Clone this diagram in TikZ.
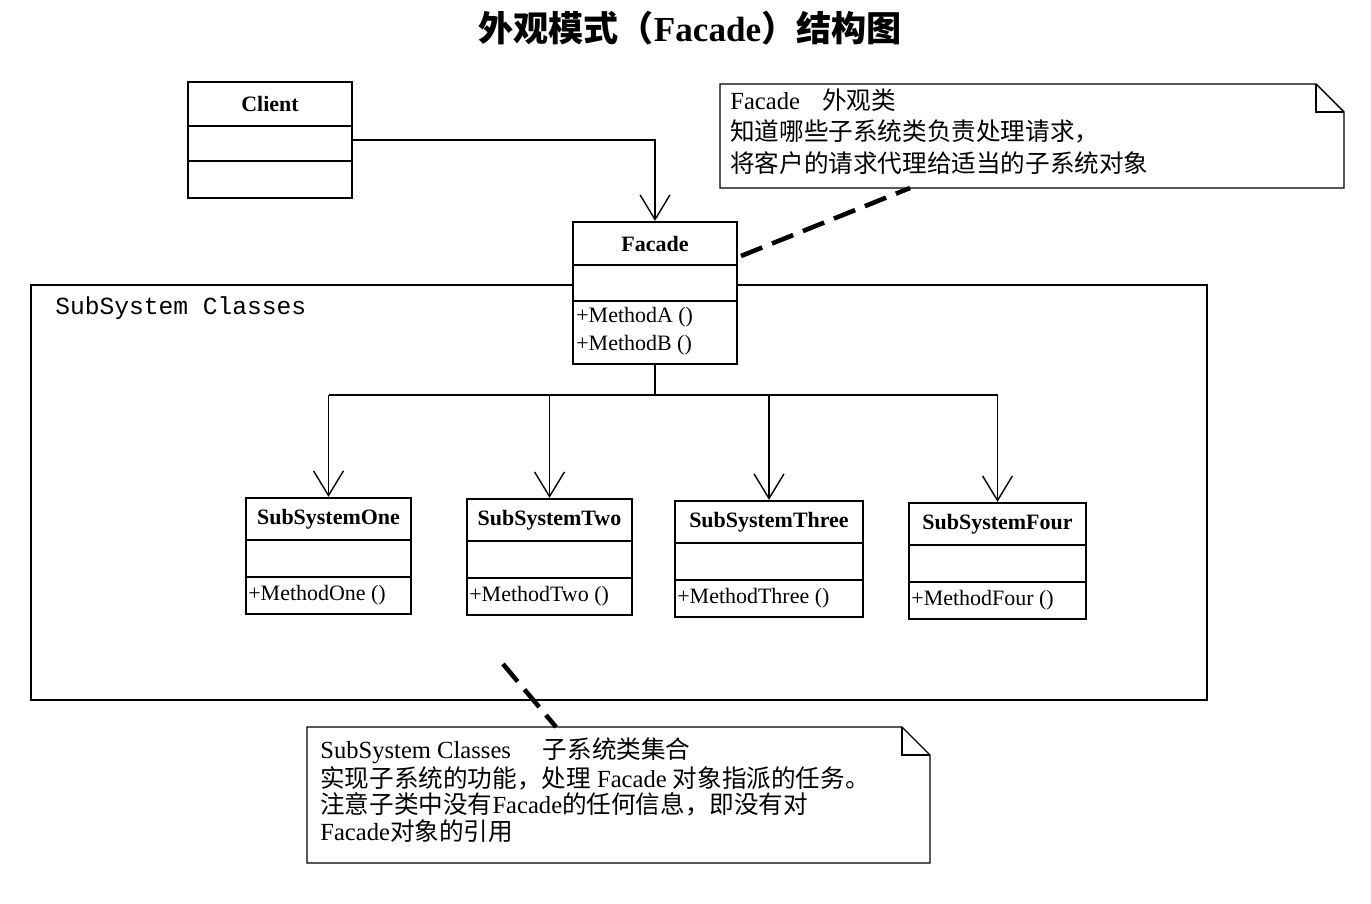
\documentclass[tikz,border=0pt]{standalone}
\usepackage{fontspec}
\setmainfont{Liberation Serif}
\setmonofont{Liberation Mono}
\newfontfamily\cjk{Noto Sans CJK SC}
\usetikzlibrary{arrows.meta,fit}
\tikzset{
  classbox/.style={draw, line width=1.3pt, fill=white, inner sep=0pt},
  classline/.style={line width=1.3pt},
  classname/.style={font=\fontsize{12.5}{14}\selectfont\bfseries, inner sep=0pt},
  method/.style={font=\fontsize{12.5}{14}\selectfont, inner sep=0pt, anchor=west},
  assoc/.style={line width=0.8pt, -{Straight Barb[length=14pt,width=17pt]}},
  wire/.style={line width=0.8pt},
  notebox/.style={line width=0.8pt},
  notetext/.style={font=\fontsize{14}{16}\selectfont, inner sep=0pt, anchor=base west},
  notelink/.style={line width=2.6pt, dash pattern=on 13pt off 6pt},
  pkgbox/.style={draw, line width=1.3pt, inner sep=0pt},
}
\newcommand\umlclass[8]{%
  \node[classbox, fit={(#2,#3)(#4,#5)}] (#1) {};
  \draw[classline] (#2,#6) -- (#4,#6);
  \draw[classline] (#2,#7) -- (#4,#7);
  \node[classname] (#1-name) at ({(#2+#4)/2},{(#3+#6)/2}) {#8};
}
\newcommand\umlnote[6]{%
  \node[fit={(#2,#3)(#4,#5)}, inner sep=0pt] (#1) {};
  \draw[notebox] (#2,#3) -- ({#4-#6},#3) -- (#4,{#3+#6}) -- (#4,#5) -- (#2,#5) -- cycle;
  \draw[notebox] ({#4-#6},#3) -- ({#4-#6},{#3+#6}) -- (#4,{#3+#6});
}
\begin{document}
\begin{tikzpicture}[x=0.02cm,y=-0.02cm]
\useasboundingbox (0,0) rectangle (1371,903);

% title
\node[font=\fontsize{20}{22}\selectfont\bfseries, inner sep=0pt] (title) at (690,28)
  {{\cjk\bfseries 外观模式（}Facade{\cjk\bfseries ）结构图}};

% package
\node[pkgbox, fit={(31,285)(1207,700)}] (pkg) {};
\node[font=\ttfamily\fontsize{14}{16}\selectfont, inner sep=0pt, anchor=west] (pkglabel) at (55,308) {SubSystem Classes};

% classes
\umlclass{client}{188}{82}{352}{198}{126}{161}{Client}
\umlclass{facade}{573}{222}{737}{364}{265}{301}{Facade}
\node[method] (facade-m1) at (576,317) {+MethodA ()};
\node[method] (facade-m2) at (576,345) {+MethodB ()};

\umlclass{s1}{246}{498}{411}{614}{540}{577}{SubSystemOne}
\node[method] (s1-m) at (248,595) {+MethodOne ()};
\umlclass{s2}{467}{499}{632}{615}{541}{578}{SubSystemTwo}
\node[method] (s2-m) at (469,596) {+MethodTwo ()};
\umlclass{s3}{675}{501}{863}{617}{543}{580}{SubSystemThree}
\node[method] (s3-m) at (677,598) {+MethodThree ()};
\umlclass{s4}{909}{503}{1086}{619}{545}{582}{SubSystemFour}
\node[method] (s4-m) at (911,600) {+MethodFour ()};

% connectors
\draw[assoc] (client.east) -- (client.east -| facade.north) -- (facade.north);
\coordinate (j) at (655,395);
\draw[wire] (facade.south) -- (j);
\draw[wire] (j -| s1.north) -- (j -| s4.north);
\draw[assoc] (j -| s1.north) -- (s1.north);
\draw[assoc] (j -| s2.north) -- (s2.north);
\draw[assoc] (j -| s3.north) -- (s3.north);
\draw[assoc] (j -| s4.north) -- (s4.north);

% note 1
\umlnote{note1}{720}{84}{1344}{188}{28}
\node[notetext] (n1l1) at (730,109) {Facade\hspace{0.9em}{\cjk 外观类}};
\node[notetext] (n1l2) at (730,140) {\cjk 知道哪些子系统类负责处理请求，};
\node[notetext] (n1l3) at (730,172) {\cjk 将客户的请求代理给适当的子系统对象};
\coordinate (l1a) at (741,256);
\coordinate (l1b) at (910,188);
\draw[notelink] (l1a) -- (l1b);

% note 2
\umlnote{note2}{307}{727}{930}{863}{28}
\node[notetext] (n2l1) at (320,758) {SubSystem Classes\hspace{1.3em}{\cjk 子系统类集合}};
\node[notetext] (n2l2) at (320,787) {{\cjk 实现子系统的功能，处理} Facade {\cjk 对象指派的任务。}};
\node[notetext] (n2l3) at (320,813) {{\cjk 注意子类中没有}Facade{\cjk 的任何信息，即没有对}};
\node[notetext] (n2l4) at (320,840) {Facade{\cjk 对象的引用}};
\coordinate (l2a) at (503,664);
\coordinate (l2b) at (556,727);
\draw[notelink] (l2a) -- (l2b);
\end{tikzpicture}
\end{document}
